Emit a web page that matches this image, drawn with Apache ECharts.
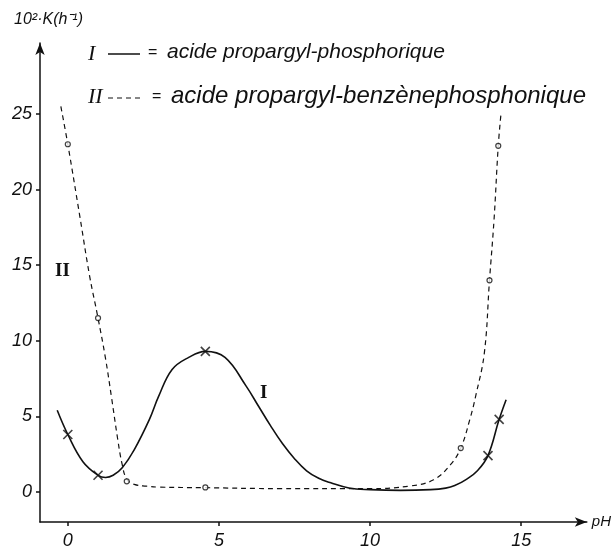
<!DOCTYPE html>
<html>
<head>
<meta charset="utf-8">
<script src="https://cdn.jsdelivr.net/npm/echarts@6/dist/echarts.min.js"></script>
<style>html,body{margin:0;padding:0;background:#fff}#c{width:614px;height:555px}</style>
</head>
<body>
<div id="c"></div>
<script>
// Curve I : acide propargyl-phosphorique (solid)
const curveIx = [-0.35, 0, 0.5, 1.0, 1.25, 1.5, 1.8, 2.2, 2.7, 3.0, 3.45, 4.0, 4.55, 5.2, 5.9, 6.3, 6.7, 7.1, 7.5, 7.9, 8.3, 8.7, 9.3, 10, 11, 12, 12.5, 12.8, 13.2, 13.55, 13.9, 14.27, 14.5];
const curveIy = [5.4, 3.8, 2.0, 1.1, 0.95, 1.1, 1.6, 2.8, 4.8, 6.3, 8.1, 8.9, 9.3, 8.9, 7.0, 5.7, 4.4, 3.2, 2.2, 1.4, 0.9, 0.6, 0.26, 0.15, 0.1, 0.15, 0.25, 0.42, 0.85, 1.4, 2.4, 4.8, 6.1];
const pointsIx = [0, 1.0, 4.55, 13.9, 14.27];
const pointsIy = [3.8, 1.1, 9.3, 2.4, 4.8];

// Curve II : acide propargyl-benzènephosphonique (dashed)
const curveIIx = [-0.23, 0, 0.4, 0.72, 1.0, 1.25, 1.45, 1.65, 1.8, 1.95, 2.2, 2.6, 3.0, 4.5, 7, 10, 11.35, 12.1, 12.66, 13.0, 13.3, 13.5, 13.78, 13.95, 14.1, 14.24, 14.33];
const curveIIy = [25.5, 23, 18.2, 14.3, 11.5, 8.8, 6.2, 3.5, 1.8, 0.85, 0.5, 0.38, 0.32, 0.28, 0.22, 0.22, 0.4, 0.8, 1.8, 2.9, 4.8, 6.4, 9.2, 14.0, 18.0, 22.9, 25.0];
const pointsIIx = [0, 1.0, 1.95, 4.55, 13.0, 13.95, 14.24];
const pointsIIy = [23, 11.5, 0.7, 0.3, 2.9, 14.0, 22.9];

const xTicks = [0, 5, 10, 15];
const yTicks = [0, 5, 10, 15, 20, 25];

const ink = '#111';
const pair = (xs, ys) => xs.map((x, i) => [x, ys[i]]);

const chart = echarts.init(document.getElementById('c'));
chart.setOption({
  animation: false,
  backgroundColor: '#fff',
  grid: {left: 40, right: 24, top: 43, bottom: 33},
  xAxis: {
    type: 'value', min: -0.92, max: 17.17,
    name: 'pH', nameLocation: 'end', nameGap: 5,
    nameTextStyle: {fontFamily: 'Liberation Sans', fontStyle: 'italic', fontSize: 15, color: ink, verticalAlign: 'middle'},
    axisLine: {onZero: false, symbol: ['none', 'arrow'], symbolSize: [7, 12], lineStyle: {color: ink, width: 1.5}},
    axisTick: {show: true, customValues: xTicks, length: 4, lineStyle: {color: ink, width: 1.5}},
    axisLabel: {customValues: xTicks, margin: 10, fontFamily: 'Liberation Sans', fontStyle: 'italic', fontSize: 18, color: ink},
    splitLine: {show: false}
  },
  yAxis: {
    type: 'value', min: -1.99, max: 29.7,
    axisLine: {onZero: false, symbol: ['none', 'arrow'], symbolSize: [7, 12], lineStyle: {color: ink, width: 1.5}},
    axisTick: {show: true, customValues: yTicks, length: 4, lineStyle: {color: ink, width: 1.5}},
    axisLabel: {customValues: yTicks, margin: 8, fontFamily: 'Liberation Sans', fontStyle: 'italic', fontSize: 18, color: ink},
    splitLine: {show: false}
  },
  series: [
    {type: 'line', data: pair(curveIx, curveIy), smooth: 0.4, showSymbol: false,
     lineStyle: {color: ink, width: 1.6}, z: 2},
    {type: 'line', data: pair(curveIIx, curveIIy), smooth: 0.4, showSymbol: false,
     lineStyle: {color: ink, width: 1.2, type: [5, 4]}, z: 2},
    {type: 'scatter', data: pair(pointsIx, pointsIy), symbol: 'path://M0 0L10 10M10 0L0 10', symbolSize: 9,
     itemStyle: {color: 'none', borderColor: ink, borderWidth: 1.6}, z: 3},
    {type: 'scatter', data: pair(pointsIIx, pointsIIy), symbol: 'circle', symbolSize: 5,
     itemStyle: {color: '#fff', borderColor: ink, borderWidth: 1.2}, z: 3}
  ],
  graphic: [
    {type: 'text', left: 14, top: 12, style: {text: '10²·K(h⁻¹)', font: 'italic 16px "Liberation Sans"', fill: ink}},
    {type: 'text', left: 88, top: 43, style: {text: 'I', font: 'italic 22px "Liberation Serif"', fill: ink}},
    {type: 'line', shape: {x1: 108, y1: 54, x2: 140, y2: 54}, style: {stroke: ink, lineWidth: 1.5}},
    {type: 'text', left: 148, top: 45, style: {text: '=', font: '16px "Liberation Sans"', fill: ink}},
    {type: 'text', left: 167, top: 42, style: {text: 'acide propargyl-phosphorique', font: 'italic 21px "Liberation Sans"', fill: ink}},
    {type: 'text', left: 88, top: 86, style: {text: 'II', font: 'italic 22px "Liberation Serif"', fill: ink}},
    {type: 'line', shape: {x1: 108, y1: 98, x2: 142, y2: 98}, style: {stroke: ink, lineWidth: 1.2, lineDash: [5, 4]}},
    {type: 'text', left: 152, top: 89, style: {text: '=', font: '16px "Liberation Sans"', fill: ink}},
    {type: 'text', left: 171, top: 84, style: {text: 'acide propargyl-benzènephosphonique', font: 'italic 24px "Liberation Sans"', fill: ink}},
    {type: 'text', left: 55, top: 262, style: {text: 'II', font: 'bold 19px "Liberation Serif"', fill: ink}},
    {type: 'text', left: 260, top: 384, style: {text: 'I', font: 'bold 19px "Liberation Serif"', fill: ink}}
  ]
});
</script>
</body>
</html>
